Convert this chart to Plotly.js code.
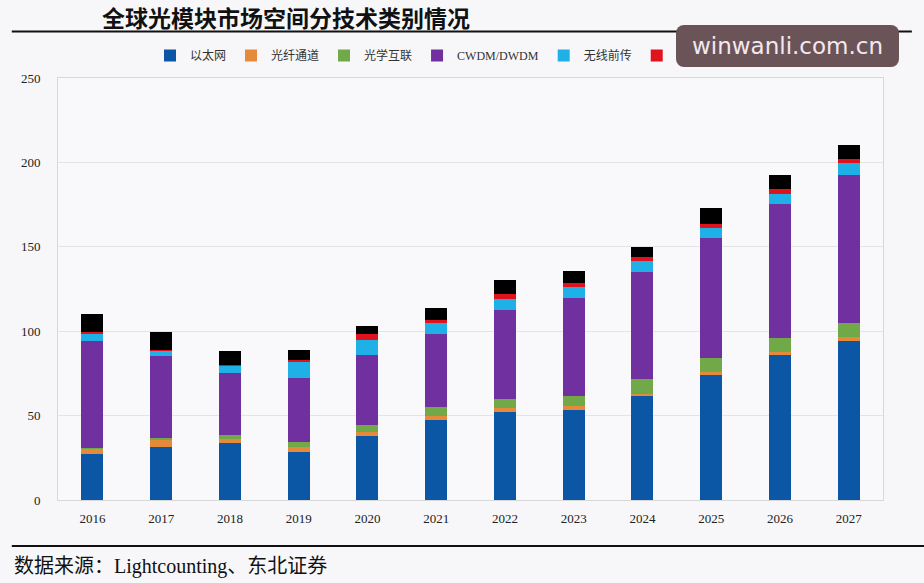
<!DOCTYPE html>
<html>
<head>
<meta charset="utf-8">
<script src="https://cdn.plot.ly/plotly-3.0.1.min.js"></script>
<style>
  html, body { margin: 0; padding: 0; background: #f7f7f9; }
  #chart { width: 924px; height: 583px; position: relative; }
  #wm { position: absolute; left: 676px; top: 25px; width: 223px; height: 42px;
        background: #6b5458; border-radius: 8px; color: #f4e8f0;
        font-family: "DejaVu Sans", sans-serif; font-size: 23px; line-height: 42px;
        text-align: center; z-index: 10; }
</style>
</head>
<body>
<div id="chart"><div id="wm">winwanli.com.cn</div></div>
<script>
const years = ['2016','2017','2018','2019','2020','2021','2022','2023','2024','2025','2026','2027'];
const seriesNames = ['以太网','光纤通道','光学互联','CWDM/DWDM','无线前传','无线回传','FTTX'];
const ethernet   = [27.0, 31.5, 34.0, 28.6, 38.0, 47.5, 52.3, 53.3, 61.4, 74.0, 85.8, 94.3];
const fibreChan  = [3.0, 4.3, 2.0, 2.6, 2.4, 2.4, 2.0, 2.1, 1.3, 1.6, 1.6, 2.0];
const optInter   = [1.0, 0.9, 2.5, 3.3, 4.0, 5.0, 5.5, 6.3, 8.9, 8.8, 8.3, 8.8];
const cwdm       = [63.0, 48.7, 37.0, 37.5, 41.6, 43.7, 52.6, 57.8, 63.7, 70.6, 79.9, 87.2];
const fronthaul  = [4.2, 3.0, 4.0, 9.8, 8.9, 6.5, 6.5, 6.7, 6.1, 6.1, 5.9, 7.1];
const backhaul   = [1.4, 0.6, 0.5, 1.2, 3.3, 1.6, 3.0, 2.6, 2.5, 2.6, 2.5, 2.4];
const fttx       = [10.3, 10.3, 8.0, 5.6, 4.9, 7.3, 8.5, 6.9, 6.1, 9.1, 8.3, 8.6];
const yTicks = [0, 50, 100, 150, 200, 250];

const allSeries = [ethernet, fibreChan, optInter, cwdm, fronthaul, backhaul, fttx];
const colors = ['#0b56a5', '#e48a3a', '#72a948', '#7030a0', '#1fb0e8', '#e0121c', '#000000'];

const traces = allSeries.map((vals, i) => ({
  type: 'bar', name: seriesNames[i], x: years, y: vals,
  marker: { color: colors[i], line: { width: 0 } },
  hoverinfo: 'x+y+name'
}));

const serif = '"Liberation Serif", "Noto Sans CJK SC", serif';
const cjk = '"Noto Sans CJK SC", "Liberation Serif", serif';

const layout = {
  width: 924, height: 583,
  paper_bgcolor: '#f7f7f9', plot_bgcolor: '#f9f9fb',
  margin: { l: 58, r: 41, t: 78, b: 83 },
  barmode: 'stack', bargap: 0.68,
  showlegend: true,
  legend: {
    orientation: 'h', x: (150 - 58) / 825, xanchor: 'left', y: (500 - 70) / 422, yanchor: 'bottom',
    font: { family: serif, size: 12, color: '#333' },
    itemwidth: 30, traceorder: 'normal', bgcolor: 'rgba(0,0,0,0)'
  },
  xaxis: {
    type: 'category', tickvals: years, ticktext: years,
    tickfont: { family: serif, size: 13, color: '#222' },
    showgrid: false, showline: true, linecolor: '#d8d8d8', linewidth: 1,
    mirror: true, ticks: 'outside', ticklen: 6, tickcolor: 'rgba(0,0,0,0)'
  },
  yaxis: {
    range: [0, 250], tickvals: yTicks, ticktext: yTicks.map(String),
    tickfont: { family: serif, size: 13, color: '#222' },
    showgrid: true, gridcolor: '#e4e4e6', gridwidth: 1,
    showline: true, linecolor: '#d8d8d8', linewidth: 1, mirror: true,
    zeroline: false, ticks: 'outside', ticklen: 14, tickcolor: 'rgba(0,0,0,0)'
  },
  shapes: [
    { type: 'line', xref: 'paper', yref: 'paper', x0: -0.056, x1: 1.035, y0: 1.11, y1: 1.11,
      line: { color: '#111', width: 2 } },
    { type: 'line', xref: 'paper', yref: 'paper', x0: -0.056, x1: 1.05, y0: -0.109, y1: -0.109,
      line: { color: '#111', width: 2 } }
  ],
  annotations: [
    { text: '<b>全球光模块市场空间分技术类别情况</b>', xref: 'paper', yref: 'paper',
      x: (100 - 58) / 825, y: (500 - 17) / 422, xanchor: 'left', yanchor: 'middle',
      showarrow: false, font: { family: cjk, size: 23, color: '#111' } },
    { text: '数据来源：Lightcounting、东北证券', xref: 'paper', yref: 'paper',
      x: (12 - 58) / 825, y: (500 - 566) / 422, xanchor: 'left', yanchor: 'middle',
      showarrow: false, font: { family: serif, size: 20, color: '#111' } }
  ]
};

Plotly.newPlot('chart', traces, layout, { displayModeBar: false, staticPlot: true });
</script>
</body>
</html>
